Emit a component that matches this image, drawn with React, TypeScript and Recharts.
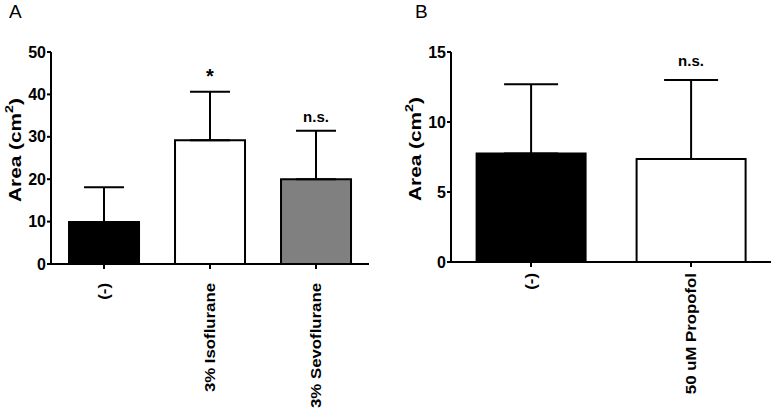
import { ComposedChart, Bar, Cell, ErrorBar, Line, XAxis, YAxis, Label } from 'recharts';

// Panel A
const groupsA = ['(-)', '3% Isoflurane', '3% Sevoflurane'];
const meanA = [9.9, 29.2, 20.0];
const sdA = [8.2, 11.4, 11.4];
const sigA = ['', '*', 'n.s.'];
const colorsA = ['#000000', '#ffffff', '#808080'];
const ticksA = [0, 10, 20, 30, 40, 50];

// Panel B
const groupsB = ['(-)', '50 uM Propofol'];
const meanB = [7.75, 7.35];
const sdB = [4.95, 5.65];
const sigB = ['', 'n.s.'];
const colorsB = ['#000000', '#ffffff'];
const ticksB = [0, 5, 10, 15];

const FONT = 'Arial, "Liberation Sans", sans-serif';

function buildRows(groups: string[], mean: number[], sd: number[], sig: string[]) {
  return groups.map((g, i) => ({
    name: g,
    mean: mean[i],
    err: [0, sd[i]],
    top: mean[i] + sd[i],
    sig: sig[i],
  }));
}

const rowsA = buildRows(groupsA, meanA, sdA, sigA);
const rowsB = buildRows(groupsB, meanB, sdB, sigB);

function makeXTick(extra: number) {
  return function XTick(props: any) {
    const { x, y, payload } = props;
    return (
      <g transform={`translate(${x},${y + extra})`}>
        {/* the source figure is stretched along the label direction */}
        <text
          transform="rotate(-90) scale(1.12,1)"
          textAnchor="end"
          dy="0.36em"
          fill="#000"
          fontSize={15}
          fontWeight="bold"
          fontFamily={FONT}
        >
          {payload.value}
        </text>
      </g>
    );
  };
}

function makeYLabel(cx: number) {
  return function YLabel(props: any) {
    const vb = props.viewBox || {};
    const cy = vb.y + vb.height / 2 - 8;
    return (
      <text
        x={0}
        y={0}
        transform={`translate(${cx},${cy}) rotate(-90) scale(1.3,1)`}
        textAnchor="middle"
        dominantBaseline="central"
        fill="#000"
        fontSize={16}
        fontWeight="bold"
        fontFamily={FONT}
      >
        Area (cm
        <tspan fontSize={11} dy={-6}>2</tspan>
        <tspan dy={6}>)</tspan>
      </text>
    );
  };
}

function makeSigDot(offset: number, sizes: Record<string, number>) {
  return function SigDot(p: any) {
    const text = p.payload?.sig;
    if (!text) return <g key={p.index} />;
    return (
      <text
        key={p.index}
        x={p.cx}
        y={p.cy - offset}
        textAnchor="middle"
        fill="#000"
        fontSize={sizes[text] ?? 15}
        fontWeight="bold"
        fontFamily={FONT}
      >
        {text}
      </text>
    );
  };
}

interface PanelProps {
  rows: any[];
  colors: string[];
  ticks: number[];
  max: number;
  width: number;
  height: number;
  margin: any;
  yWidth: number;
  xHeight: number;
  capHalf: number;
  tickExtra: number;
  labelX: number;
  sigOffset: number;
  gap: string;
}

function Panel(p: PanelProps) {
  return (
    <ComposedChart width={p.width} height={p.height} data={p.rows} margin={p.margin} barCategoryGap={p.gap}>
      <XAxis
        dataKey="name"
        interval={0}
        height={p.xHeight}
        tickSize={5}
        axisLine={{ stroke: '#000', strokeWidth: 2 }}
        tickLine={{ stroke: '#000', strokeWidth: 2 }}
        tick={makeXTick(p.tickExtra)}
      />
      <YAxis
        domain={[0, p.max]}
        ticks={p.ticks}
        width={p.yWidth}
        tickSize={4}
        tickMargin={1}
        axisLine={{ stroke: '#000', strokeWidth: 2 }}
        tickLine={{ stroke: '#000', strokeWidth: 2 }}
        tick={{ fill: '#000', fontSize: 16, fontWeight: 'bold', fontFamily: FONT }}
      >
        <Label content={makeYLabel(p.labelX)} />
      </YAxis>
      <Bar dataKey="mean" stroke="#000" strokeWidth={2} isAnimationActive={false}>
        {p.rows.map((_, i) => (
          <Cell key={i} fill={p.colors[i]} />
        ))}
        <ErrorBar dataKey="err" width={p.capHalf} stroke="#000" strokeWidth={2} isAnimationActive={false} />
      </Bar>
      <Line
        dataKey="top"
        stroke="none"
        activeDot={false}
        dot={makeSigDot(p.sigOffset, { '*': 20, 'n.s.': 15 })}
        isAnimationActive={false}
      />
    </ComposedChart>
  );
}

export default function App() {
  return (
    <div style={{ position: 'absolute', left: 0, top: 0, width: 775, height: 409, background: '#fff', fontFamily: FONT }}>
      <svg width={775} height={24} style={{ position: 'absolute', left: 0, top: 0 }}>
        <text x={9} y={18} fontSize={19} fontFamily={FONT} fill="#000">A</text>
        <text x={415} y={18} fontSize={19} fontFamily={FONT} fill="#000">B</text>
      </svg>
      <div style={{ position: 'absolute', left: 0, top: 0 }}>
        <Panel
          rows={rowsA}
          colors={colorsA}
          ticks={ticksA}
          max={50}
          width={380}
          height={409}
          margin={{ top: 52, right: 11, left: 0, bottom: 0 }}
          yWidth={51}
          xHeight={145}
          capHalf={20}
          tickExtra={12}
          labelX={15}
          sigOffset={9}
          gap="17%"
        />
      </div>
      <div style={{ position: 'absolute', left: 390, top: 0 }}>
        <Panel
          rows={rowsB}
          colors={colorsB}
          ticks={ticksB}
          max={15}
          width={385}
          height={409}
          margin={{ top: 52, right: 4, left: 0, bottom: 0 }}
          yWidth={61}
          xHeight={147}
          capHalf={27}
          tickExtra={4}
          labelX={25}
          sigOffset={14}
          gap="16%"
        />
      </div>
    </div>
  );
}
